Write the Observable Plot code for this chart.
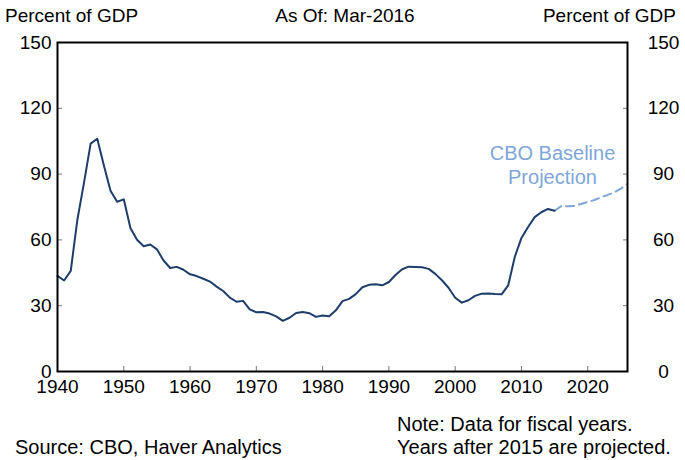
<!DOCTYPE html>
<html><head><meta charset="utf-8">
<script src="https://cdn.jsdelivr.net/npm/d3@7"></script>
<script src="https://cdn.jsdelivr.net/npm/@observablehq/plot@0.6"></script>
<style>
body{margin:0;background:#fff;font-family:Arial,"Liberation Sans",sans-serif;}
#wrap{position:relative;width:685px;height:460px;overflow:hidden;}
#chart{position:absolute;left:0;top:0;}
.t{position:absolute;font-size:19px;color:#000;white-space:nowrap;line-height:1;}
.f{font-size:20px;}
</style></head><body>
<div id="wrap">
<div id="chart"></div>
<div class="t" style="left:5px;top:6px">Percent of GDP</div>
<div class="t" style="left:345px;top:6px;transform:translateX(-50%)">As Of: Mar-2016</div>
<div class="t" style="right:9px;top:6px">Percent of GDP</div>
<div class="t f" style="left:397px;top:414px">Note: Data for fiscal years.</div>
<div class="t f" style="left:15px;top:437px">Source: CBO, Haver Analytics</div>
<div class="t f" style="left:397px;top:437px">Years after 2015 are projected.</div>
</div>
<script>
// Historical debt held by the public, percent of GDP (fiscal years)
const histYears = [1940,1941,1942,1943,1944,1945,1946,1947,1948,1949,
  1950,1951,1952,1953,1954,1955,1956,1957,1958,1959,
  1960,1961,1962,1963,1964,1965,1966,1967,1968,1969,
  1970,1971,1972,1973,1974,1975,1976,1977,1978,1979,
  1980,1981,1982,1983,1984,1985,1986,1987,1988,1989,
  1990,1991,1992,1993,1994,1995,1996,1997,1998,1999,
  2000,2001,2002,2003,2004,2005,2006,2007,2008,2009,
  2010,2011,2012,2013,2014,2015];
const histValues = [43.6,41.5,45.9,69.2,86.1,103.9,106.1,93.9,82.4,77.4,
  78.5,65.4,60.1,57.1,57.9,55.7,50.6,47.2,47.7,46.4,
  44.3,43.5,42.3,41.0,38.7,36.7,33.7,31.8,32.2,28.3,
  27.0,27.1,26.4,25.1,23.1,24.5,26.7,27.1,26.6,24.9,
  25.5,25.2,27.9,32.1,33.1,35.3,38.4,39.5,39.8,39.3,
  40.8,44.0,46.6,47.8,47.7,47.5,46.8,44.5,41.6,38.2,
  33.6,31.4,32.5,34.5,35.5,35.6,35.3,35.2,39.3,52.3,
  60.9,65.9,70.4,72.6,74.1,73.3];
// CBO baseline projection (March 2016)
const projYears = [2015,2016,2017,2018,2019,2020,2021,2022,2023,2024,2025,2026];
const projValues = [73.3,75.4,75.3,75.5,76.4,77.3,78.2,79.4,80.5,81.7,83.4,85.6];
const xTicks = [1940,1950,1960,1970,1980,1990,2000,2010,2020];
const yTicks = [0,30,60,90,120,150];
const projLabel = "CBO Baseline\nProjection";

const hist = histYears.map((y, i) => ({year: y, value: histValues[i]}));
const proj = projYears.map((y, i) => ({year: y, value: projValues[i]}));

const chart = Plot.plot({
  width: 685, height: 460,
  marginLeft: 57, marginRight: 58, marginTop: 42, marginBottom: 89,
  style: {fontFamily: "Arial, 'Liberation Sans', sans-serif", fontSize: "19px", color: "#000", background: "transparent", overflow: "visible"},
  x: {domain: [1940, 2026]},
  y: {domain: [0, 150]},
  marks: [
    Plot.axisX(xTicks.slice(1), {tickSize: -5, text: null, stroke: "#777", label: null}),
    Plot.axisX(xTicks, {tickSize: 0, tickPadding: 8, tickFormat: d => String(d), label: null}),
    Plot.axisY(yTicks, {anchor: "left", tickSize: -5, text: null, stroke: "#777", label: null}),
    Plot.axisY(yTicks, {anchor: "left", tickSize: 0, tickPadding: 6, label: null}),
    Plot.axisY(yTicks, {anchor: "right", tickSize: -5, text: null, stroke: "#777", label: null}),
    Plot.axisY(yTicks, {anchor: "right", tickSize: 0, tickPadding: 36, textAnchor: "middle", label: null}),
    Plot.line(proj, {x: "year", y: "value", stroke: "#7ea6d8", strokeWidth: 2, strokeDasharray: "8,5"}),
    Plot.line(hist, {x: "year", y: "value", stroke: "#1f3d6b", strokeWidth: 2}),
    Plot.text([projLabel], {frameAnchor: "top-right", dx: -75, dy: 122, text: d => d, textAnchor: "middle", lineAnchor: "middle", lineHeight: 1.2, fill: "#7ea6d8", fontSize: 20}),
    Plot.frame({stroke: "#000", strokeWidth: 2})
  ]
});
document.getElementById("chart").appendChild(chart);
</script>
</body></html>
